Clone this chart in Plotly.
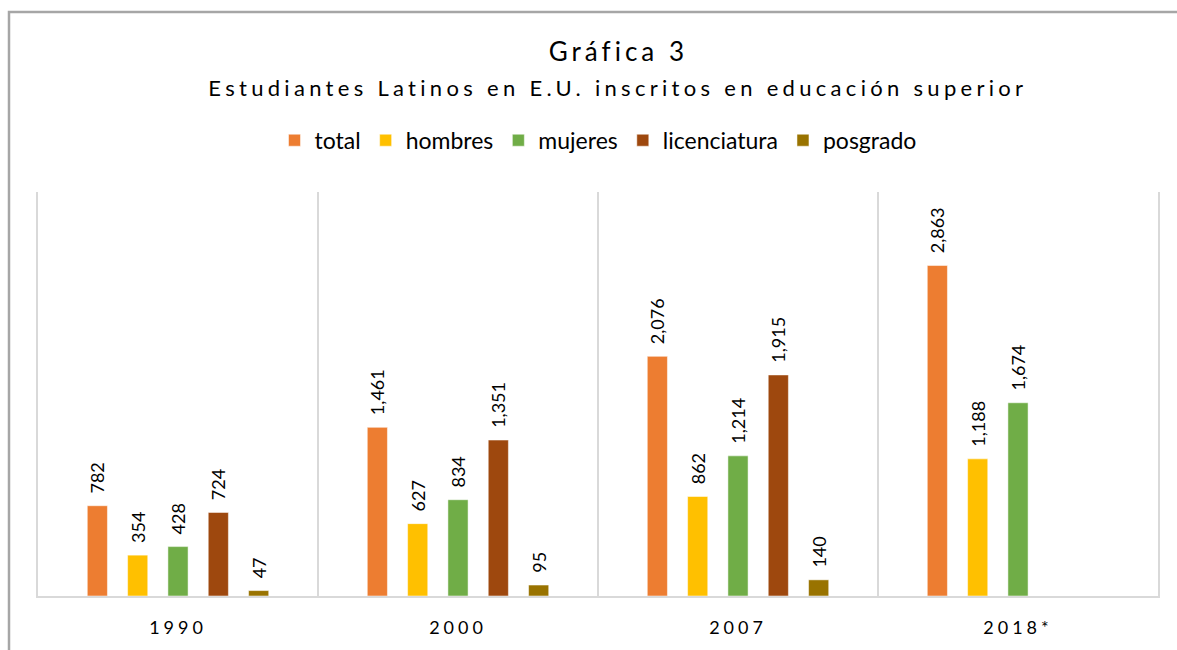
import plotly.graph_objects as go

years = ["1990", "2000", "2007", "2018*"]

total = [782, 1461, 2076, 2863]
hombres = [354, 627, 862, 1188]
mujeres = [428, 834, 1214, 1674]
licenciatura = [724, 1351, 1915, None]
posgrado = [47, 95, 140, None]

series = [
    ("total", total, "#ed7d31"),
    ("hombres", hombres, "#ffc000"),
    ("mujeres", mujeres, "#70ad47"),
    ("licenciatura", licenciatura, "#9e480e"),
    ("posgrado", posgrado, "#997300"),
]

font_family = "Lato, Open Sans, sans-serif"

fig = go.Figure()

for name, vals, color in series:
    fig.add_trace(
        go.Bar(
            name = name,
            x = years,
            y = vals,
            marker = dict(color = color, line = dict(color = "rgba(255,255,255,0.5)", width = 1)),
            # leading no-break spaces push the rotated label up off the bar
            texttemplate = "\u00a0\u00a0%{y:,}",
            textposition = "outside",
            textangle = -90,
            constraintext = "none",
            textfont = dict(family = font_family, size = 18, color = "#000000"),
            cliponaxis = False,
            hoverinfo = "none",
        )
    )

title_x = (618 - 38) / 1120

fig.update_layout(
    width = 1177,
    height = 650,
    barmode = "group",
    bargap = 0.28,
    bargroupgap = 0.5,
    plot_bgcolor = "white",
    paper_bgcolor = "white",
    font = dict(family = font_family, size = 18, color = "#000000"),
    margin = dict(l = 38, r = 19, t = 192, b = 52),
    showlegend = True,
    legend = dict(
        orientation = "h",
        x = 0.5,
        xanchor = "center",
        y = 1 + (192 - 140) / 406,
        yanchor = "middle",
        font = dict(family = font_family, size = 23, color = "#000000"),
        itemwidth = 30,
        traceorder = "normal",
    ),
    xaxis = dict(
        type = "category",
        tickson = "boundaries",
        showgrid = True,
        gridcolor = "#d9d9d9",
        gridwidth = 1.5,
        showline = True,
        linecolor = "#d9d9d9",
        linewidth = 2,
        ticks = "",
        ticklabelstandoff = 14,
        tickfont = dict(family = font_family, size = 18, color = "#000000"),
        range = [-0.5, 3.5],
    ),
    yaxis = dict(
        range = [0, 3500],
        showgrid = False,
        showticklabels = False,
        zeroline = False,
        showline = True,
        mirror = True,
        linecolor = "#d9d9d9",
        linewidth = 1.5,
        ticks = "",
    ),
    annotations = [
        dict(
            text = "Gráfica 3",
            xref = "paper", yref = "paper",
            x = title_x, y = 1 + (192 - 50) / 406,
            xanchor = "center", yanchor = "middle",
            showarrow = False,
            font = dict(family = font_family, size = 26, color = "#000000"),
        ),
        dict(
            text = "Estudiantes Latinos en E.U. inscritos en educación superior",
            xref = "paper", yref = "paper",
            x = title_x, y = 1 + (192 - 87) / 406,
            xanchor = "center", yanchor = "middle",
            showarrow = False,
            font = dict(family = font_family, size = 22, color = "#000000"),
        ),
    ],
    shapes = [
        dict(
            type = "rect",
            xref = "paper", yref = "paper",
            x0 = (9 - 38) / 1120, x1 = 1.1,
            y0 = -0.3, y1 = 1 + (192 - 11) / 406,
            line = dict(color = "#a6a6a6", width = 2.5),
            layer = "below",
        )
    ],
)

spacing_js = """
document.body.style.margin = '0';
function spaceOut() {
  var ann = document.querySelectorAll('.annotation-text');
  ann.forEach(function(e) {
    e.style.letterSpacing = e.textContent.length < 15 ? '4px' : '4.3px';
  });
  document.querySelectorAll('.xtick text').forEach(function(e) {
    e.style.letterSpacing = '4px';
  });
}
spaceOut();
var gd = document.getElementsByClassName('plotly-graph-div')[0];
gd.on('plotly_afterplot', spaceOut);
"""

fig.write_html("out.html", config = {"displayModeBar": False}, post_script = spacing_js)
